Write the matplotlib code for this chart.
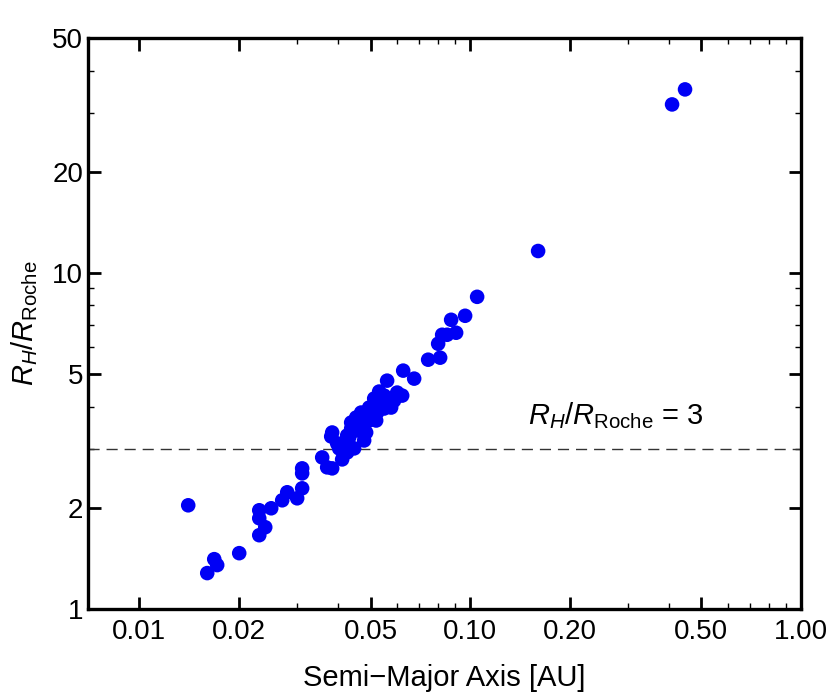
import matplotlib
matplotlib.use("Agg")
from matplotlib import pyplot as plt
from matplotlib.ticker import FixedLocator, FixedFormatter, NullFormatter

plt.rcParams['font.family'] = ['Liberation Sans', 'DejaVu Sans']
plt.rcParams['mathtext.fontset'] = 'custom'
plt.rcParams['mathtext.rm'] = 'Liberation Sans'
plt.rcParams['mathtext.it'] = 'Liberation Sans:italic'

# semi-major axis [AU] and R_H / R_Roche
semi_major = [0.01406, 0.01605, 0.01685, 0.01720, 0.02005, 0.02305, 0.02403,
              0.02305, 0.02305, 0.02505, 0.02704, 0.02800, 0.03001, 0.03107,
              0.03107, 0.03107, 0.03572, 0.03698, 0.03829, 0.04104, 0.03803,
              0.03829, 0.04019, 0.04162, 0.04250, 0.04370, 0.04370, 0.04524,
              0.04556, 0.04685, 0.04717, 0.04850, 0.04884, 0.04953, 0.05022,
              0.05164, 0.05236, 0.05383, 0.05497, 0.05612, 0.05771, 0.05309,
              0.05612, 0.06018, 0.06232, 0.06276, 0.06774, 0.07467, 0.08117,
              0.08005, 0.08231, 0.08522, 0.08762, 0.09072, 0.09658, 0.1050,
              0.1605, 0.4077, 0.4462, 0.05200, 0.04783, 0.04462, 0.04250,
              0.03964, 0.04621, 0.04953, 0.04310, 0.05497, 0.05129, 0.05893]
rh_roche = [2.035, 1.279, 1.407, 1.351, 1.466, 1.658, 1.751,
            1.862, 1.967, 1.994, 2.106, 2.225, 2.135, 2.286,
            2.533, 2.621, 2.825, 2.639, 2.621, 2.787, 3.261,
            3.351, 3.005, 3.131, 3.283, 3.444, 3.588, 3.713,
            3.397, 3.842, 3.588, 3.351, 3.688, 3.976, 3.789,
            4.031, 3.842, 4.171, 3.949, 4.229, 3.976, 4.436,
            4.780, 4.405, 4.315, 5.120, 4.847, 5.518, 5.595,
            6.156, 6.546, 6.546, 7.253, 6.637, 7.455, 8.489,
            11.62, 31.72, 35.16, 3.638, 3.173, 3.005, 2.923,
            3.109, 3.516, 3.638, 3.238, 4.315, 4.229, 4.171]

x_ticks = [0.01, 0.02, 0.05, 0.10, 0.20, 0.50, 1.00]
x_labels = ['0.01', '0.02', '0.05', '0.10', '0.20', '0.50', '1.00']
x_minor = [0.03, 0.04, 0.06, 0.07, 0.08, 0.09, 0.3, 0.4, 0.6, 0.7, 0.8, 0.9]
y_ticks = [1, 2, 5, 10, 20, 50]
y_labels = ['1', '2', '5', '10', '20', '50']
y_minor = [3, 4, 6, 7, 8, 9, 30, 40]
threshold = 3

fig = plt.figure(figsize=(8.30, 6.98), dpi=100)
ax = fig.add_axes([88/830, 89/698, 713/830, 571/698])

ax.scatter(semi_major, rh_roche, s=110, color='#0000f5', edgecolors='none', zorder=3)
ax.axhline(threshold, color='#333333', lw=1.0, ls=(0, (8, 5)), zorder=2)
ax.text(0.15, 3.77, r'$R_H/R_{\mathrm{Roche}}$ = 3', fontsize=21, va='center', ha='left')

ax.set_xscale('log')
ax.set_yscale('log')
ax.set_xlim(0.007, 1.0)
ax.set_ylim(1, 50)

ax.xaxis.set_major_locator(FixedLocator(x_ticks))
ax.xaxis.set_major_formatter(FixedFormatter(x_labels))
ax.xaxis.set_minor_locator(FixedLocator(x_minor))
ax.xaxis.set_minor_formatter(NullFormatter())
ax.yaxis.set_major_locator(FixedLocator(y_ticks))
ax.yaxis.set_major_formatter(FixedFormatter(y_labels))
ax.yaxis.set_minor_locator(FixedLocator(y_minor))
ax.yaxis.set_minor_formatter(NullFormatter())

ax.tick_params(which='both', direction='in', top=True, right=True, labelsize=20)
ax.tick_params(which='major', length=9, width=2)
ax.tick_params(which='minor', length=4, width=1)
ax.tick_params(axis='x', pad=7)
for sp in ax.spines.values():
    sp.set_linewidth(2.4)

ax.set_xlabel('Semi\u2212Major Axis [AU]', fontsize=21, labelpad=14)
ax.set_ylabel(r'$R_H/R_{\mathrm{Roche}}$', fontsize=21, labelpad=9)

fig.savefig('out.png', dpi=100)
